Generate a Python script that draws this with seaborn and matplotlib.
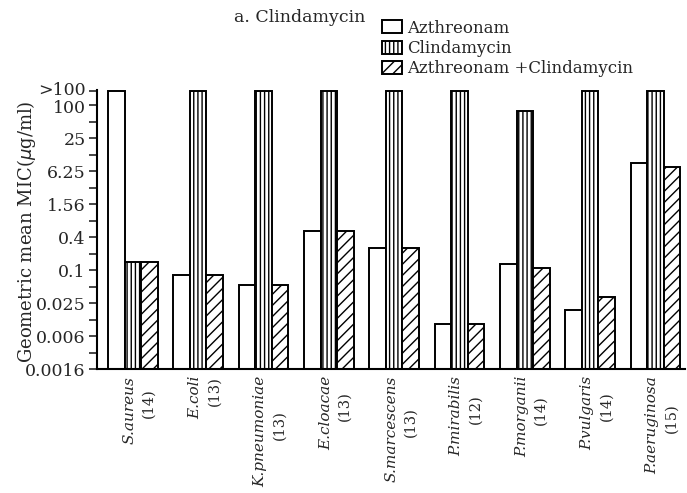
import numpy as np
import pandas as pd
import matplotlib
matplotlib.use("Agg")
import matplotlib.pyplot as plt
import matplotlib.transforms as mtransforms
import seaborn as sns

# ---- data ----
organisms = ["S.aureus", "E.coli", "K.pneumoniae", "E.cloacae", "S.marcescens",
             "P.mirabilis", "P.morganii", "P.vulgaris", "P.aeruginosa"]
counts = [14, 13, 13, 13, 13, 12, 14, 14, 15]
drugs = ["Azthreonam", "Clindamycin", "Azthreonam +Clindamycin"]
aztreonam = [180, 0.079, 0.052, 0.50, 0.246, 0.0101, 0.127, 0.0182, 8.6]
clindamycin = [0.138, 180, 180, 180, 180, 180, 78, 180, 180]
combination = [0.138, 0.079, 0.052, 0.50, 0.246, 0.0101, 0.106, 0.031, 7.5]
ytick_labels = [">100", "100", "25", "6.25", "1.56", "0.4", "0.1", "0.025", "0.006", "0.0016"]
over_value = 180  # plotting position of ">100"

sns.set_style("ticks")
plt.rcParams["font.family"] = ["DejaVu Serif"]
plt.rcParams["hatch.linewidth"] = 1.0
plt.rcParams["hatch.color"] = "black"

df = pd.DataFrame({
    "organism": organisms * 3,
    "drug": [d for d in drugs for _ in organisms],
    "mic": aztreonam + clindamycin + combination,
})

fig = plt.figure(figsize=(6.87, 4.93), dpi=100)
ax = fig.add_axes([0.141, 1 - 369 / 493, 0.856, (369 - 90.4) / 493])

sns.barplot(data=df, x="organism", y="mic", hue="drug", order=organisms,
            hue_order=drugs, width=0.76, errorbar=None, legend=False,
            ax=ax, log_scale=(False, 2))

hatches = ["", "||||", "///"]
for cont, h in zip(ax.containers, hatches):
    for p in cont.patches:
        p.set_facecolor("white")
        p.set_edgecolor("black")
        p.set_linewidth(1.4)
        p.set_hatch(h)

ax.set_yscale("log", base=2)
ymin = 100 / 2 ** 16
ax.set_ylim(ymin, 185)
ax.set_xlim(-0.55, 8.45)

major = [over_value] + [100 / 4 ** k for k in range(9)]
minor = [100 / 2 ** k for k in range(1, 17, 2)]
ax.set_yticks(major)
ax.set_yticklabels(ytick_labels, fontsize=12.5)
ax.set_yticks(minor, minor=True)
ax.yaxis.set_minor_formatter(matplotlib.ticker.NullFormatter())
ax.tick_params(axis="y", which="both", length=6, width=1.2, direction="out", pad=2)
ylabs = ax.get_yticklabels()
ylabs[0].set_transform(ylabs[0].get_transform() +
                       mtransforms.ScaledTranslation(0, 3 / 100, fig.dpi_scale_trans))
ylabs[1].set_transform(ylabs[1].get_transform() +
                       mtransforms.ScaledTranslation(0, -1 / 100, fig.dpi_scale_trans))

ax.set_xticks(range(len(organisms)))
ax.set_xticklabels(organisms, rotation=90, fontsize=11, fontstyle="italic",
                   va="top", ha="center")
ax.tick_params(axis="x", length=0, pad=5)
shift = mtransforms.ScaledTranslation(-3 / 100, 0, fig.dpi_scale_trans)
for lab in ax.get_xticklabels():
    lab.set_transform(lab.get_transform() + shift)

ax.set_xlabel("")
ax.set_ylabel("")
for s in ["top", "right"]:
    ax.spines[s].set_visible(False)
for s in ["left", "bottom"]:
    ax.spines[s].set_linewidth(1.5)
    ax.spines[s].set_color("black")

fig.text(27 / 687, 1 - 232 / 493, "Geometric mean MIC($\\mu$g/ml)", rotation=90,
         ha="center", va="center", fontsize=13)
fig.text(300 / 687, 1 - 17 / 493, "a. Clindamycin", ha="center", va="center", fontsize=12.5)

leg = fig.legend(ax.containers, drugs, loc="upper left",
                 bbox_to_anchor=(370 / 687, 1 - 8 / 493), frameon=False,
                 fontsize=12, handlelength=1.2, handleheight=0.8,
                 handletextpad=0.3, labelspacing=0.2, borderpad=0.2)

# sample counts next to the species names
fig.canvas.draw()
renderer = fig.canvas.get_renderer()
inv = fig.transFigure.inverted()
for lab, c in zip(ax.get_xticklabels(), counts):
    bb = lab.get_window_extent(renderer)
    x0, y0 = inv.transform((bb.x1 + 5, (bb.y0 + bb.y1) / 2 + 7))
    fig.text(x0, y0, f"({c})", rotation=90, ha="left", va="center", fontsize=10.5)

fig.savefig("out.png", dpi=100)
